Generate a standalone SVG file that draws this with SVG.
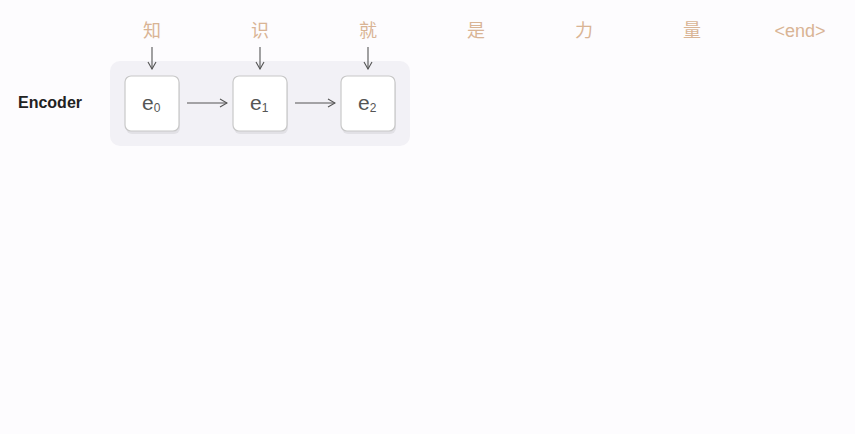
<svg xmlns="http://www.w3.org/2000/svg" width="855" height="434" viewBox="0 0 855 434">
<defs>
<style>
.tok{font-family:"Liberation Sans","Noto Sans CJK SC",sans-serif;font-size:18px;fill:#d9b495;text-anchor:middle}
.box{fill:#ffffff;stroke:#c8c8c8;stroke-width:1.2}
.shadow{fill:#e2e1e6}
.lbl{font-family:"Liberation Sans",Arial,sans-serif;font-size:21px;fill:#555555}
.sub{font-size:12px}
.conn{stroke:#555555;stroke-width:1.1;fill:none}
</style>
<marker id="ah" viewBox="0 0 10 10" refX="9" refY="5" markerWidth="10" markerHeight="10" markerUnits="userSpaceOnUse" orient="auto">
<path d="M2,1 L9,5 L2,9" fill="none" stroke="#555555" stroke-width="1.1"/>
</marker>
</defs>
<rect width="855" height="434" fill="#fdfcfe"/>
<text x="18" y="108" font-family="Liberation Sans,Arial,sans-serif" font-size="16" font-weight="bold" fill="#222222">Encoder</text>
<rect x="110" y="61" width="300" height="85" rx="10" fill="#f2f1f6"/>
<g id="tokens">
<text class="tok" x="152" y="37">知</text>
<text class="tok" x="260" y="37">识</text>
<text class="tok" x="368" y="37">就</text>
<text class="tok" x="476" y="37">是</text>
<text class="tok" x="584" y="37">力</text>
<text class="tok" x="692" y="37">量</text>
<text class="tok" x="800" y="37">&lt;end&gt;</text>
</g>
<g id="e0">
<rect class="shadow" x="126" y="79" width="54" height="55" rx="6"/>
<rect class="box" x="125" y="76" width="54" height="55" rx="6"/>
<text class="lbl" x="142" y="110">e<tspan class="sub" dy="2">0</tspan></text>
</g>
<g id="e1">
<rect class="shadow" x="234" y="79" width="54" height="55" rx="6"/>
<rect class="box" x="233" y="76" width="54" height="55" rx="6"/>
<text class="lbl" x="250" y="110">e<tspan class="sub" dy="2">1</tspan></text>
</g>
<g id="e2">
<rect class="shadow" x="342" y="79" width="54" height="55" rx="6"/>
<rect class="box" x="341" y="76" width="54" height="55" rx="6"/>
<text class="lbl" x="358" y="110">e<tspan class="sub" dy="2">2</tspan></text>
</g>
<g id="connectors">
<line class="conn" x1="152" y1="47" x2="152" y2="69" marker-end="url(#ah)"/>
<line class="conn" x1="260" y1="47" x2="260" y2="69" marker-end="url(#ah)"/>
<line class="conn" x1="368" y1="47" x2="368" y2="69" marker-end="url(#ah)"/>
<line class="conn" x1="187" y1="103" x2="227" y2="103" marker-end="url(#ah)"/>
<line class="conn" x1="295" y1="103" x2="335" y2="103" marker-end="url(#ah)"/>
</g>
</svg>
